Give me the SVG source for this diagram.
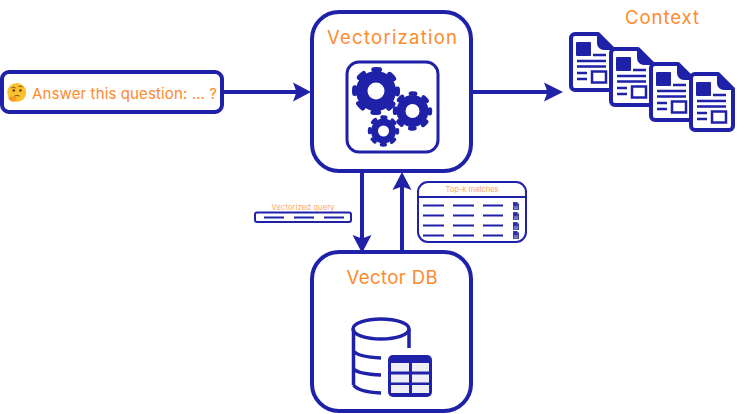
<svg xmlns="http://www.w3.org/2000/svg" width="744" height="414" viewBox="0 0 744 414">
<style>
.box{fill:#fff;stroke:#1f22a8;stroke-width:4}
.thin{fill:#fff;stroke:#1f22a8;stroke-width:2}
.ln{fill:none;stroke:#1f22a8;stroke-width:2}
.dl{fill:none;stroke:#1f22a8;stroke-width:2.400}
.conn{fill:none;stroke:#1f22a8;stroke-width:4}
.head{fill:#1f22a8}
.navy{fill:#1f22a8}
.t{font-family:Inter,"Liberation Sans",sans-serif;fill:#ff8a2b;font-weight:400}
.big{font-size:18.500px;text-anchor:middle}
.tiny{font-size:7.500px;text-anchor:middle;fill:#ffa45c}
.teeth{fill:none;stroke:#1f22a8;stroke-linecap:round}
</style>
<defs>
<g id="doc">
<path d="M6 2H29L44 17V54a4 4 0 0 1-4 4H6a4 4 0 0 1-4-4V6a4 4 0 0 1 4-4Z" fill="#fff" stroke="#1f22a8" stroke-width="4" stroke-linejoin="round"/>
<path d="M29 2L44 17H35a6 6 0 0 1-6-6Z" class="navy" stroke="#1f22a8" stroke-width="2" stroke-linejoin="round"/>
<rect x="7" y="10" width="15" height="14" rx="1" class="navy"/>
<path d="M24 23H37M8 29H37M8 34.500H37M8 41H18M8 47H18" class="dl"/>
<rect x="23" y="39.500" width="14" height="11" fill="none" stroke="#1f22a8" stroke-width="2.500"/>
</g>
<g id="mini"><path d="M0 0h4l2 2v6h-6Z" fill="#3b3dab"/><rect x="1" y="1.500" width="2" height="2" fill="#1f22a8"/><path d="M1 5h4M1 6.800h4" stroke="#b9badf" stroke-width=".8"/></g>
</defs>

<g id="connectors">
<path class="conn" d="M223 92H298"/><path class="head" d="M311 92L293 82.500L296.500 92L293 101.500Z"/>
<path class="conn" d="M472 92H549"/><path class="head" d="M563 92L544 82.500L547.500 92L544 101.500Z"/>
<path class="conn" d="M362 172V240"/><path class="head" d="M362 253L352.500 235L362 238.500L371.500 235Z"/>
<path class="conn" d="M402 251V185"/><path class="head" d="M402 172L392.500 190L402 186.500L411.500 190Z"/>
</g>

<g id="input">
<rect class="box" x="2" y="72" width="220" height="40" rx="7"/>
<g id="emoji">
<circle cx="16.700" cy="92.500" r="9.500" fill="#fbc02d"/>
<path d="M11.500 88q2-1.500 4 0M18.500 86.500q2-1 4 .5" fill="none" stroke="#7a4a12" stroke-width="1"/>
<circle cx="13.800" cy="90.500" r="1.300" fill="#5d3a10"/><circle cx="20.500" cy="90.500" r="1.300" fill="#5d3a10"/>
<path d="M14.500 96q3-1 5 0" fill="none" stroke="#7a4a12" stroke-width="1"/>
<path d="M8.500 97.500q4-2 7.500 0l-.5 3.500q-1.500 1-3.500.5q-3.500-1-3.500-4Z" fill="#f59a23"/>
</g>
<text class="t" x="32" y="99" font-size="15" textLength="185">Answer this question: ... ?</text>
</g>

<g id="vectorization">
<rect class="box" x="312" y="12" width="159" height="159" rx="27"/>
<text class="t big" x="392" y="43.500" textLength="130">Vectorization</text>
<rect x="347" y="62" width="91" height="90" rx="12" fill="#fff" stroke="#1f22a8" stroke-width="3"/>
<g id="gear1"><circle cx="376" cy="91" r="20" class="navy"/><circle class="teeth" cx="376" cy="91" r="21.500" stroke-width="5" stroke-dasharray="6 10.890" stroke-dashoffset="3"/><circle cx="376" cy="91" r="8.500" fill="#fff"/></g>
<g id="gear2"><circle cx="412.500" cy="111" r="16" class="navy"/><circle class="teeth" cx="412.500" cy="111" r="17.500" stroke-width="4.400" stroke-dasharray="4.600 9.140" stroke-dashoffset="2.300"/><circle cx="412.500" cy="111" r="7" fill="#fff"/></g>
<g id="gear3"><circle cx="383.500" cy="131" r="12.500" class="navy"/><circle class="teeth" cx="383.500" cy="131" r="13.800" stroke-width="3.800" stroke-dasharray="3.600 7.240" stroke-dashoffset="1.800"/><circle cx="383.500" cy="131" r="5.500" fill="#fff"/></g>
</g>

<g id="context">
<text class="t big" x="662" y="24" textLength="74">Context</text>
<use href="#doc" x="569" y="32"/>
<use href="#doc" x="609" y="47"/>
<use href="#doc" x="649" y="62"/>
<use href="#doc" x="689" y="72"/>
</g>

<g id="vectorized-query">
<text class="t tiny" x="303" y="209.500" textLength="63">Vectorized query</text>
<rect class="thin" x="255" y="212.500" width="96" height="9.500" rx="2"/>
<path class="ln" d="M264 217.500h20M294 217.500h20M324 217.500h20"/>
</g>

<g id="top-k">
<rect class="thin" x="418" y="182" width="108" height="60" rx="10"/>
<path class="ln" d="M418 197H526"/>
<text class="t tiny" x="472" y="192" textLength="53">Top-k matches</text>
<path class="ln" d="M423 205.500h21M453 205.500h21M483 205.500h20M423 215.500h21M453 215.500h21M483 215.500h20M423 225.500h21M453 225.500h21M483 225.500h20M423 235.500h21M453 235.500h21M483 235.500h20"/>
<use href="#mini" x="513" y="202"/><use href="#mini" x="513" y="212"/><use href="#mini" x="513" y="222"/><use href="#mini" x="513" y="231"/>
</g>

<g id="vector-db">
<rect class="box" x="312" y="252" width="159" height="159" rx="27"/>
<text class="t big" x="392" y="283.500" textLength="91">Vector DB</text>
<g fill="none" stroke="#1f22a8" stroke-width="3.500">
<ellipse cx="381" cy="329" rx="28" ry="10"/>
<path d="M353.500 329V385M409 329V348M353.500 351q5 6 27.500 7M353.500 369q5 5 27.500 6M353.500 385q5 7 27.500 8"/>
</g>
<rect x="388" y="355" width="44" height="42" rx="5" class="navy"/>
<g fill="#eeeef6">
<rect x="391" y="363" width="18" height="8.500"/><rect x="412" y="363" width="17" height="8.500"/>
<rect x="391" y="374.500" width="18" height="8"/><rect x="412" y="374.500" width="17" height="8"/>
<rect x="391" y="385" width="18" height="8"/><rect x="412" y="385" width="17" height="8"/>
</g>
</g>
</svg>
